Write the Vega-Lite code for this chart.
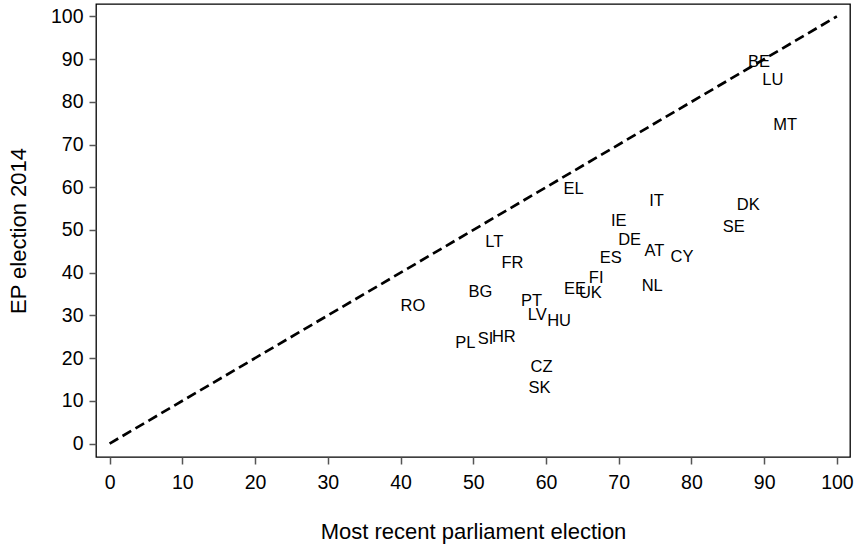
{
  "$schema": "https://vega.github.io/schema/vega-lite/v6.json",
  "autosize": "none",
  "width": 754,
  "height": 453,
  "padding": {"left": 96, "top": 4, "right": 10, "bottom": 91},
  "background": "white",
  "config": {
    "view": {"stroke": "black", "strokeWidth": 1.3},
    "font": "Liberation Sans",
    "axis": {
      "grid": false,
      "domain": false,
      "tickColor": "#555555",
      "tickWidth": 1.5,
      "tickSize": 7,
      "labelFont": "Liberation Sans",
      "labelFontSize": 19.5,
      "labelColor": "black",
      "titleFont": "Liberation Sans",
      "titleFontSize": 22,
      "titleFontWeight": "normal",
      "titleColor": "black"
    }
  },
  "datasets": {
    "countries": [
      {"country": "BE", "recent": 89.3, "ep": 89.3},
      {"country": "LU", "recent": 91.2, "ep": 85.2},
      {"country": "MT", "recent": 92.9, "ep": 74.5},
      {"country": "EL", "recent": 63.8, "ep": 59.6},
      {"country": "IT", "recent": 75.2, "ep": 56.9},
      {"country": "DK", "recent": 87.8, "ep": 55.9},
      {"country": "IE", "recent": 70.0, "ep": 52.1},
      {"country": "SE", "recent": 85.8, "ep": 50.8},
      {"country": "LT", "recent": 52.9, "ep": 47.2},
      {"country": "DE", "recent": 71.5, "ep": 47.7},
      {"country": "AT", "recent": 74.9, "ep": 45.1},
      {"country": "CY", "recent": 78.7, "ep": 43.7},
      {"country": "ES", "recent": 68.9, "ep": 43.4},
      {"country": "FR", "recent": 55.4, "ep": 42.2},
      {"country": "FI", "recent": 66.9, "ep": 38.7},
      {"country": "NL", "recent": 74.6, "ep": 37.0},
      {"country": "EE", "recent": 64.0, "ep": 36.2},
      {"country": "UK", "recent": 66.1, "ep": 35.3},
      {"country": "BG", "recent": 51.0, "ep": 35.5},
      {"country": "PT", "recent": 58.0, "ep": 33.4},
      {"country": "RO", "recent": 41.7, "ep": 32.2},
      {"country": "LV", "recent": 58.8, "ep": 30.1},
      {"country": "HU", "recent": 61.8, "ep": 28.7},
      {"country": "HR", "recent": 54.2, "ep": 25.0},
      {"country": "SI", "recent": 51.7, "ep": 24.4},
      {"country": "PL", "recent": 48.9, "ep": 23.6},
      {"country": "CZ", "recent": 59.4, "ep": 17.9},
      {"country": "SK", "recent": 59.1, "ep": 12.9}
    ],
    "diagonal": [
      {"recent": 0, "ep": 0},
      {"recent": 100, "ep": 100}
    ]
  },
  "encoding": {
    "x": {
      "field": "recent",
      "type": "quantitative",
      "title": "Most recent parliament election",
      "scale": {"domain": [-1.87, 101.8], "nice": false, "zero": false},
      "axis": {"values": [0, 10, 20, 30, 40, 50, 60, 70, 80, 90, 100], "labelPadding": 9, "titlePadding": 30}
    },
    "y": {
      "field": "ep",
      "type": "quantitative",
      "title": "EP election 2014",
      "scale": {"domain": [-3.14, 102.9], "nice": false, "zero": false},
      "axis": {"values": [0, 10, 20, 30, 40, 50, 60, 70, 80, 90, 100], "labelPadding": 6, "titlePadding": 20}
    }
  },
  "layer": [
    {
      "data": {"name": "diagonal"},
      "mark": {"type": "line", "color": "black", "strokeWidth": 2.7, "strokeDash": [10, 5]}
    },
    {
      "data": {"name": "countries"},
      "mark": {"type": "text", "fontSize": 16.5, "align": "center", "baseline": "middle", "color": "black", "font": "Liberation Sans"},
      "encoding": {"text": {"field": "country", "type": "nominal"}}
    }
  ]
}
